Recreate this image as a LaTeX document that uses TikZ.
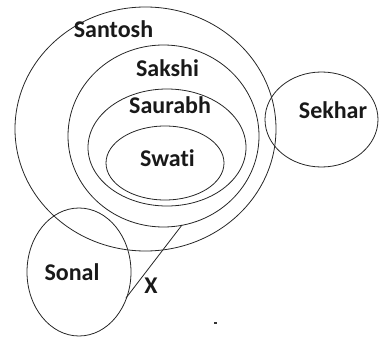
\documentclass[tikz,border=0pt]{standalone}
\usepackage{fontspec}
\setmainfont[Ligatures=NoCommon]{Carlito}
\usetikzlibrary{shapes.geometric}
\begin{document}
\begin{tikzpicture}[x=1pt,y=-1pt,
  set/.style={draw=black!85,line width=0.8pt,ellipse,inner sep=0pt},
  lbl/.style={font=\bfseries\fontsize{24}{27}\selectfont,anchor=base,inner sep=0pt,text=black!90}]
\useasboundingbox (0,0) rectangle (380,337);
\node[set,minimum width=261pt,minimum height=244pt] (santosh) at (145.5,129) {};
\node[set,minimum width=191pt,minimum height=182pt] (sakshi) at (163.5,136) {};
\node[set,minimum width=158pt,minimum height=117pt] (saurabh) at (167,147.5) {};
\node[set,minimum width=118pt,minimum height=74pt] (swati) at (165,163) {};
\node[set,minimum width=113pt,minimum height=95pt] (sekhar) at (321.5,119.5) {};
\node[set,minimum width=104pt,minimum height=128pt] (sonal) at (79,272) {};
\coordinate (p1) at (182,225);
\coordinate (p2) at (126,298);
\draw[black!85,line width=0.8pt] (p1) -- (p2);
\node[lbl] (tsantosh) at (113.5,37.5) {Santosh};
\node[lbl] (tsakshi) at (167.5,76.5) {Sakshi};
\node[lbl] (tsaurabh) at (170,113) {Saurabh};
\node[lbl] (tswati) at (167.5,166.5) {Swati};
\node[lbl] (tsekhar) at (333,118) {Sekhar};
\node[lbl] (tsonal) at (72,280) {Sonal};
\node[lbl] (tx) at (151,293) {X};
\fill[black!80] (213.5,322) rectangle (216.5,324) coordinate (dot);
\end{tikzpicture}
\end{document}
